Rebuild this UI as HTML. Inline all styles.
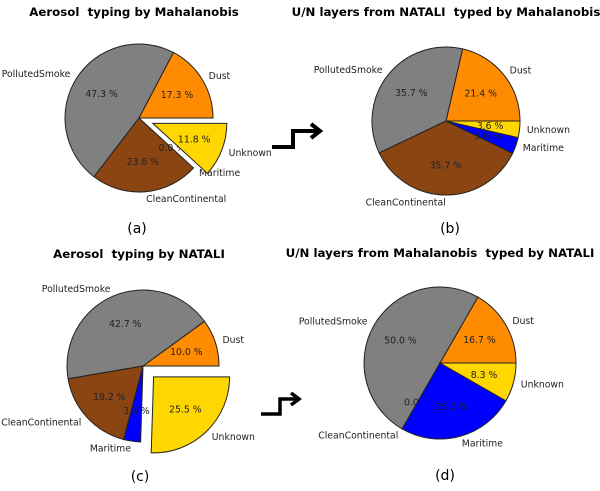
<!DOCTYPE html>
<html><head><meta charset="utf-8">
<style>
body{margin:0;background:#fff;}
svg{display:block;font-family:"DejaVu Sans","Liberation Sans",sans-serif;}
.title{font-weight:bold;font-size:11.8px;white-space:pre;}
.lbl{font-size:9.3px;fill:#222;}
.pct{font-size:9.3px;fill:#222;}
.sub{font-size:14px;}
</style></head>
<body>
<svg id="fig" width="600" height="491" viewBox="0 0 600 491">
<text class="title" x="134" y="16" text-anchor="middle">Aerosol  typing by Mahalanobis</text>
<text class="title" x="446" y="16" text-anchor="middle">U/N layers from NATALI  typed by Mahalanobis</text>
<text class="title" x="139" y="258" text-anchor="middle">Aerosol  typing by NATALI</text>
<text class="title" x="440" y="257" text-anchor="middle">U/N layers from Mahalanobis  typed by NATALI</text>
<text class="sub" x="137" y="233" text-anchor="middle">(a)</text>
<text class="sub" x="450" y="233" text-anchor="middle">(b)</text>
<text class="sub" x="140" y="481" text-anchor="middle">(c)</text>
<text class="sub" x="445" y="480" text-anchor="middle">(d)</text>
<g fill="none" stroke="#000" stroke-width="4">
<path d="M272 147 H293 V131 H318"/><path d="M311 124 L320 131 L311 138"/>
</g>
<g fill="none" stroke="#000" stroke-width="3.5">
<path d="M261 414 H280 V399 H297"/><path d="M291 393 L299 399 L291 405"/>
</g>
<g id="pies"></g>
</svg>
<script>
const categories = ["Dust","PollutedSmoke","CleanContinental","Maritime","Unknown"];
const colors = ["#ff8c00","#808080","#8b4513","#0000ff","#ffd700"];
const valuesA = [17.3,47.3,23.6,0.0,11.8];
const valuesB = [21.4,35.7,35.7,3.6,3.6];
const valuesC = [10.0,42.7,18.2,3.6,25.5];
const valuesD = [16.7,50.0,0.0,25.0,8.3];
const explodeA = [0,0,0,0,0.2];
const explodeB = [0,0,0,0,0];
const explodeC = [0,0,0,0,0.2];
const explodeD = [0,0,0,0,0];

const NS="http://www.w3.org/2000/svg";
const root=document.getElementById('pies');
function mk(tag,attrs){const e=document.createElementNS(NS,tag);for(const k in attrs)e.setAttribute(k,attrs[k]);return e;}
function pie(id,values,explode,cx,cy,r){
  const g=mk('g',{});
  
  
  root.appendChild(g);
  const total=values.reduce((a,b)=>a+b,0);
  let a0=0;
  values.forEach((v,i)=>{
    const sweep=v/total*2*Math.PI;
    const a1=a0+sweep, am=a0+sweep/2;
    const ox=cx+explode[i]*r*Math.cos(am), oy=cy-explode[i]*r*Math.sin(am);
    if(v>0){
      const x0=ox+r*Math.cos(a0), y0=oy-r*Math.sin(a0);
      const x1=ox+r*Math.cos(a1), y1=oy-r*Math.sin(a1);
      const large=sweep>Math.PI?1:0;
      const p=mk('path',{d:`M${ox} ${oy} L${x0} ${y0} A${r} ${r} 0 ${large} 0 ${x1} ${y1} Z`,fill:colors[i],stroke:'#222','stroke-width':1});
      
      
      g.appendChild(p);
    }
    const lx=ox+1.1*r*Math.cos(am), ly=oy-1.1*r*Math.sin(am);
    const t=mk('text',{x:lx,y:ly+3,'class':'lbl','text-anchor':Math.cos(am)>=0?'start':'end'});
    t.textContent=categories[i];
    
    
    g.appendChild(t);
    const px=ox+0.6*r*Math.cos(am), py=oy-0.6*r*Math.sin(am);
    const pt=mk('text',{x:px,y:py+3,'class':'pct','text-anchor':'middle'});
    pt.textContent=v.toFixed(1)+' %';
    
    
    g.appendChild(pt);
    a0=a1;
  });
}
pie('a',valuesA,explodeA,139,118,74);
pie('b',valuesB,explodeB,446,121,74);
pie('c',valuesC,explodeC,143,366,76);
pie('d',valuesD,explodeD,440,363,76);
</script>
</body></html>
